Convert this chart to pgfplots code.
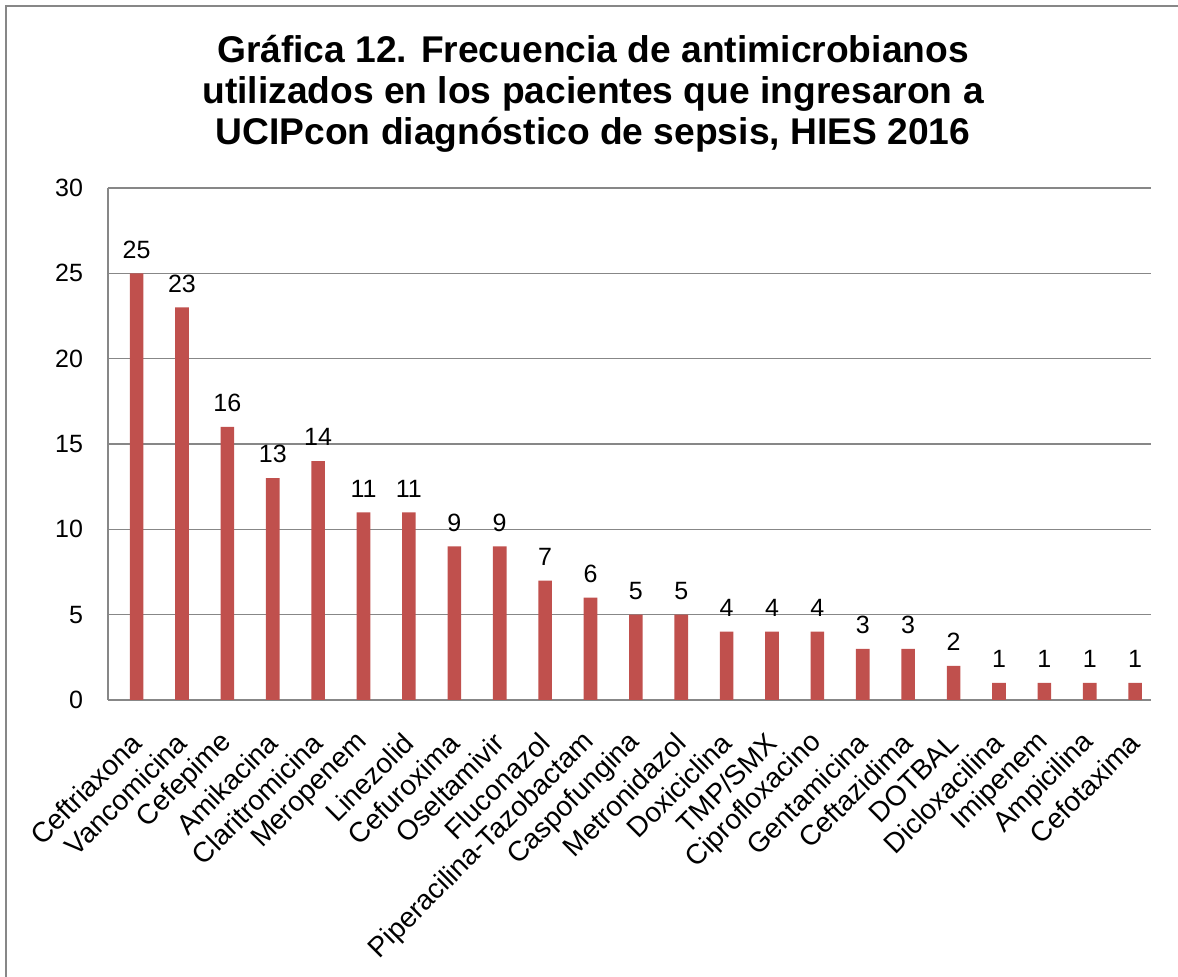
\documentclass[border=0pt]{standalone}
\usepackage{fontspec}
\setmainfont{Liberation Sans}
\usepackage{pgfplots}
\pgfplotsset{compat=1.18}
\usepackage{pgfplotstable}

\definecolor{barred}{HTML}{C0504D}
\definecolor{gridgray}{HTML}{878787}

\pgfplotstableread{
idx value
0  25
1  23
2  16
3  13
4  14
5  11
6  11
7  9
8  9
9  7
10 6
11 5
12 5
13 4
14 4
15 4
16 3
17 3
18 2
19 1
20 1
21 1
22 1
}\antimicro

\begin{document}
\begin{tikzpicture}
% page area and the (cropped) outer frame, in half-point units from the top left
\begin{scope}[x=0.5pt, y=-0.5pt, shift={(0pt,488.5pt)}]
\useasboundingbox (0,0) rectangle (1178,977);
\draw[gridgray, line width=1pt] (6,977) -- (6,6) -- (1178,6);
% title
\node[align=center, font=\bfseries\fontsize{18.6}{20.6}\selectfont] at (593,94)
  {Gráfica 12. Frecuencia de antimicrobianos\\
   utilizados en los pacientes que ingresaron a\\
   UCIPcon diagnóstico de sepsis, HIES 2016};
\end{scope}
\begin{axis}[
  at={(54pt,138.5pt)}, anchor=south west,
  scale only axis, width=521.5pt, height=256pt,
  xmin=-0.63, xmax=22.35, ymin=0, ymax=30,
  ytick={0,5,...,30},
  xtick=data,
  xticklabels={Ceftriaxona,Vancomicina,Cefepime,Amikacina,Claritromicina,
    Meropenem,Linezolid,Cefuroxima,Oseltamivir,Fluconazol,
    Piperacilina-Tazobactam,Caspofungina,Metronidazol,Doxiciclina,TMP/SMX,
    Ciprofloxacino,Gentamicina,Ceftazidima,DOTBAL,Dicloxacilina,Imipenem,
    Ampicilina,Cefotaxima},
  axis x line*=bottom, axis y line*=left,
  axis line style={gridgray, line width=1pt, -},
  ymajorgrids, grid style={gridgray, line width=0.8pt},
  major tick length=0pt,
  /pgf/number format/assume math mode=true,
  y tick label style={font=\fontsize{12.5}{14}\selectfont, black, xshift=-9pt},
  x tick label style={font=\fontsize{14}{16}\selectfont, black,
    inner sep=0pt, yshift=-19pt, rotate=45, anchor=east},
  ybar, bar width=0.3,
  nodes near coords,
  every node near coord/.append style={font=\fontsize{12.5}{14}\selectfont, black, yshift=4pt},
]
\addplot[fill=barred, draw=none] table[x=idx, y=value] {\antimicro};
\end{axis}
\end{tikzpicture}
\end{document}
